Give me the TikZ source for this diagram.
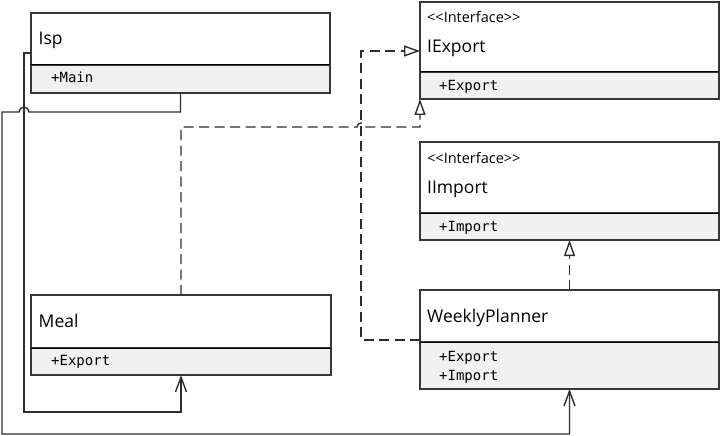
\documentclass[tikz,border=0pt]{standalone}
\usepackage{fontspec}
\setmainfont{Open Sans}
\newfontfamily\stfont{Open Sans}
\newfontfamily\memfont{DejaVu Sans Mono}
\usetikzlibrary{arrows.meta}
\definecolor{boxline}{RGB}{55,55,55}
\definecolor{compfill}{RGB}{240,240,240}
\definecolor{conn}{RGB}{45,45,45}
\begin{document}
\begin{tikzpicture}[x=1pt,y=-1pt,
  hdr/.style={draw=boxline,line width=1.1pt,fill=white,anchor=north west,inner sep=0pt,outer sep=0pt,minimum width=299pt},
  comp/.style={draw=boxline,line width=1.1pt,fill=compfill,anchor=north west,inner sep=0pt,outer sep=0pt,minimum width=299pt},
  title/.style={anchor=base west,inner sep=0pt,font=\fontsize{17.5}{19}\selectfont},
  stereo/.style={anchor=base west,inner sep=0pt,font=\stfont\fontsize{14.5}{16}\selectfont},
  member/.style={anchor=base west,inner sep=0pt,font=\memfont\fontsize{14}{16}\selectfont},
  divider/.style={draw=black,line width=1pt},
  assoc/.style={draw=conn,line width=1.4pt,-{Straight Barb[length=15pt,width=11pt]}},
  real/.style={draw=conn,line width=1.4pt,dash pattern=on 10pt off 5.5pt,-{Triangle[open,length=16pt,width=11pt,fill=white]}}]
\useasboundingbox (0,0) rectangle (721,436);

% Isp
\node[hdr,minimum height=52pt] (isph) at (31,13) {};
\node[comp,minimum height=28pt] (ispc) at (31,65) {};
\draw[divider] (isph.south west) -- (isph.south east);
\node[title] (ispt) at (38.5,45) {Isp};
\node[member] (ispm) at (51,83) {+Main};

% IExport
\node[hdr,minimum height=70pt] (ieh) at (420,2) {};
\node[comp,minimum height=27pt] (iec) at (420,72) {};
\draw[divider] (ieh.south west) -- (ieh.south east);
\node[stereo] (ies) at (427,23) {<<Interface>>};
\node[title] (iet) at (427,53) {IExport};
\node[member] (iem) at (439,91) {+Export};

% IImport
\node[hdr,minimum height=71pt] (iih) at (420,142) {};
\node[comp,minimum height=27pt] (iic) at (420,213) {};
\draw[divider] (iih.south west) -- (iih.south east);
\node[stereo] (iis) at (427,163) {<<Interface>>};
\node[title] (iit) at (427,193) {IImport};
\node[member] (iim) at (439,231) {+Import};

% Meal
\node[hdr,minimum width=300pt,minimum height=53pt] (mealh) at (31,295) {};
\node[comp,minimum width=300pt,minimum height=27pt] (mealc) at (31,348) {};
\draw[divider] (mealh.south west) -- (mealh.south east);
\node[title] (mealt) at (38.5,327) {Meal};
\node[member] (mealm) at (51,365) {+Export};

% WeeklyPlanner
\node[hdr,minimum height=52pt] (wph) at (420,290) {};
\node[comp,minimum height=47pt] (wpc) at (420,342) {};
\draw[divider] (wph.south west) -- (wph.south east);
\node[title] (wpt) at (427,322) {WeeklyPlanner};
\node[member] (wpm1) at (439,361) {+Export};
\node[member] (wpm2) at (439,380) {+Import};

% connectors
\draw[assoc] ([yshift=-40pt]isph.north west) -| (24,412) -| (mealc.south);
\draw[assoc] (ispc.south) -- ++(0,19) -- (29,112) arc[start angle=0,end angle=-180,radius=5] -- (2,112) -- (2,434) -| (wpc.south);
\draw[real] (mealh.north) |- (357,127) arc[start angle=180,end angle=360,radius=4] -- (420,127) -- (iec.south west);
\draw[real] ([yshift=-50pt]wph.north west) -| (361,51) -- ([yshift=-49pt]ieh.north west);
\draw[real] (wph.north) -- (iic.south);
\end{tikzpicture}
\end{document}
